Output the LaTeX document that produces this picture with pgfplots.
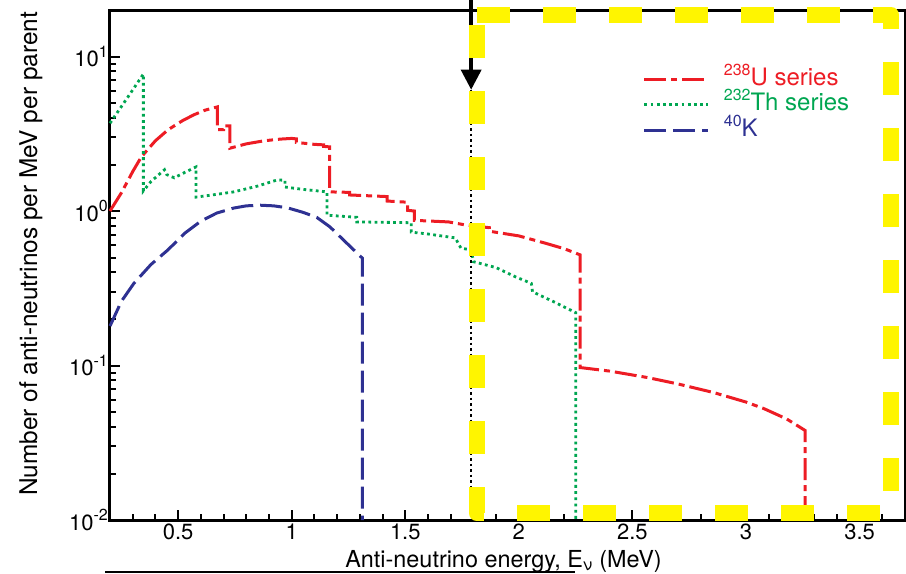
\documentclass[border=0pt]{standalone}
\usepackage{fontspec}
\setmainfont{TeX Gyre Heros}
\usepackage{pgfplots}
\pgfplotsset{compat=1.18}
\usetikzlibrary{arrows.meta}
\definecolor{ured}{RGB}{237,28,36}
\definecolor{thgreen}{RGB}{0,166,81}
\definecolor{kblue}{RGB}{46,49,146}
\definecolor{hly}{RGB}{255,245,0}
\newcommand\tsup[1]{\raisebox{0.42em}{\fontsize{16}{16}\selectfont #1}}
\newcommand\lsup[1]{\raisebox{0.42em}{\fontsize{16}{16}\selectfont #1}}
\begin{document}
\begin{tikzpicture}
\begin{axis}[
  scale only axis, width=795pt, height=510pt,
  ymode=log, xmin=0.2, xmax=3.7, ymin=0.01, ymax=20,
  clip=false,
  axis line style={line width=3pt},
  tick align=inside, xtick pos=bottom, ytick pos=left,
  major tick length=10pt, minor tick length=6pt,
  every tick/.style={black, line width=2pt},
  every minor tick/.style={black, line width=2pt},
  xtick={0.5,1,1.5,2,2.5,3,3.5},
  xticklabels={0.5,1,1.5,2,2.5,3,3.5},
  minor xtick={0.3,0.4,0.6,0.7,0.8,0.9,1.1,1.2,1.3,1.4,1.6,1.7,1.8,1.9,2.1,2.2,2.3,2.4,2.6,2.7,2.8,2.9,3.1,3.2,3.3,3.4,3.6},
  ytick={0.01,0.1,1,10},
  yticklabels={10\tsup{-2},10\tsup{-1},10\tsup{0},10\tsup{1}},
  minor ytick={0.02,0.03,0.04,0.05,0.06,0.07,0.08,0.09,0.2,0.3,0.4,0.5,0.6,0.7,0.8,0.9,2,3,4,5,6,7,8,9},
  tick label style={font=\fontsize{22}{24}\selectfont},
  yticklabel style={inner sep=2pt},
  xticklabel style={inner sep=4pt},
  xlabel={Anti-neutrino energy, E\textsubscript{ν} (MeV)},
  ylabel={Number of anti-neutrinos per MeV per parent},
  xlabel style={font=\fontsize{23.4}{25}\selectfont, at={(axis description cs:0.495,-0.0922)}, anchor=base},
  ylabel style={font=\fontsize{24.4}{26}\selectfont, at={(axis description cs:-0.0918,0.5216)}, anchor=base},
  legend style={at={(0.67,0.886)}, anchor=north west, draw=none, fill=none,
    font=\fontsize{24}{26}\selectfont, inner sep=0pt, row sep=3.5pt, column sep=14pt,
    nodes={inner sep=0pt, text height=17pt, text depth=5pt}},
  legend cell align=left,
  legend image code/.code={\draw[#1] (0pt,0pt) -- (64pt,0pt);},
]
\addplot[ured, line width=3pt, dash pattern=on 22pt off 5pt on 6pt off 5pt] coordinates {
(0.2,1.0)(0.25,1.31)(0.30,1.80)(0.338,2.24)(0.40,2.85)(0.456,3.36)(0.52,3.85)(0.57,4.2)(0.62,4.5)(0.673,4.72)
(0.673,3.36)(0.70,3.36)(0.70,3.56)(0.728,3.56)(0.728,2.55)
(0.80,2.72)(0.88,2.85)(0.95,2.92)(1.00,2.95)(1.02,2.93)(1.02,2.78)(1.10,2.70)(1.14,2.68)(1.14,2.62)(1.167,2.60)(1.167,1.33)
(1.255,1.32)(1.255,1.27)(1.42,1.24)(1.42,1.16)(1.51,1.14)(1.51,1.01)(1.54,1.0)(1.54,0.87)(1.69,0.85)(1.77,0.81)(1.87,0.78)(1.87,0.74)(2.0,0.69)(2.115,0.62)(2.2,0.57)(2.27,0.52)(2.27,0.097)
(2.4,0.092)(2.566,0.0836)(2.7,0.076)(2.858,0.0668)(3.0,0.058)(3.08,0.0525)(3.18,0.045)(3.26,0.038)(3.26,0.01)
};
\addlegendentry{\textcolor{ured}{\lsup{238}U series}}
\addplot[thgreen, line width=2.8pt, dash pattern=on 2.8pt off 3.4pt] coordinates {
(0.2,3.7)(0.28,5.5)(0.347,7.7)(0.347,1.35)(0.38,1.55)(0.413,1.71)(0.44,1.85)(0.45,1.72)(0.483,1.64)(0.53,1.78)(0.579,1.93)(0.579,1.23)
(0.65,1.27)(0.745,1.33)(0.85,1.45)(0.937,1.59)(0.97,1.58)(0.97,1.43)(1.05,1.38)(1.155,1.33)(1.155,0.94)(1.286,0.91)(1.286,0.85)
(1.526,0.84)(1.526,0.73)(1.60,0.71)(1.72,0.67)(1.745,0.575)(1.79,0.56)(1.80,0.47)(1.90,0.43)(1.985,0.375)(2.055,0.34)(2.06,0.30)(2.15,0.26)(2.25,0.22)(2.25,0.01)
};
\addlegendentry{\textcolor{thgreen}{\lsup{232}Th series}}
\addplot[kblue, line width=3pt, dash pattern=on 22pt off 7pt] coordinates {
(0.2,0.18)(0.25,0.26)(0.305,0.34)(0.38,0.45)(0.455,0.56)(0.53,0.72)(0.6,0.86)(0.67,0.97)(0.745,1.045)(0.80,1.08)(0.862,1.09)
(0.92,1.08)(0.98,1.05)(1.05,0.98)(1.11,0.91)(1.168,0.79)(1.242,0.62)(1.311,0.495)(1.311,0.01)
};
\addlegendentry{\textcolor{kblue}{\lsup{40}K}}
\draw[black, line width=2.5pt, dash pattern=on 2.5pt off 3pt] (axis cs:1.79,6.1) -- (axis cs:1.79,0.01);
\draw[black, line width=3.5pt, -{Triangle[width=20pt,length=20pt]}] (axis cs:1.79,23.4) -- (axis cs:1.79,6.1);
\draw[hly, line width=16pt, dash pattern=on 33pt off 33pt, line join=round]
  (axis cs:1.814,18.5) -- (axis cs:3.64,18.5) -- (axis cs:3.64,0.0111) -- (axis cs:1.814,0.0111) -- cycle;
\end{axis}
\draw[black, line width=2.5pt] ([xshift=-5pt,yshift=-52pt]current axis.south west) -- ++(470pt,0pt);
\pgfresetboundingbox
\path ([xshift=-110pt,yshift=-54pt]current axis.south west) rectangle ([xshift=1pt,yshift=10pt]current axis.north east);
\end{tikzpicture}
\end{document}
